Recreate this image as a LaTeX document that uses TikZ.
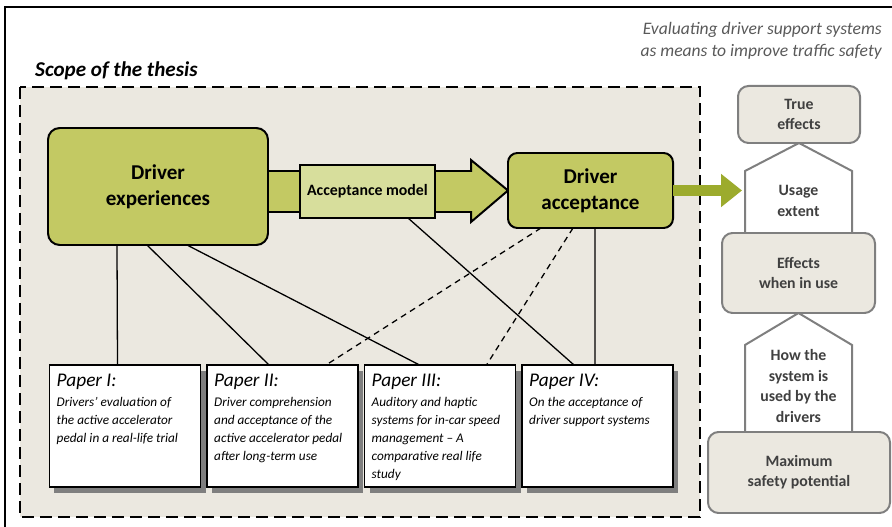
\documentclass[tikz,border=0pt]{standalone}
\usepackage{fontspec}
\setmainfont{Carlito}
\usetikzlibrary{calc, shadows, backgrounds, arrows.meta}

\definecolor{oliva}{RGB}{195,201,99}
\definecolor{olivaclara}{RGB}{215,222,156}
\definecolor{olivaflecha}{RGB}{156,171,45}
\definecolor{fondo}{RGB}{235,232,224}
\definecolor{borde}{RGB}{127,127,127}
\definecolor{textogris}{RGB}{64,64,64}
\definecolor{cabgris}{RGB}{89,89,89}

\newcommand{\titulopaper}[1]{{\fontsize{16.5}{19}\selectfont #1}}

\begin{document}
\begin{tikzpicture}[x=0.3mm, y=-0.3mm,
		caja/.style={draw, line width=1.7pt, fill=oliva, rounded corners=10pt, inner sep=0pt, outer sep=0pt,
			align=center, font=\fontsize{18}{22}\selectfont\bfseries},
		modelo/.style={draw, line width=1pt, fill=olivaclara, inner sep=0pt, outer sep=0pt,
			font=\fontsize{13.5}{16}\selectfont\bfseries},
		paper/.style={draw, line width=1.3pt, fill=white, inner sep=0pt, outer sep=0pt,
			minimum width=45.3mm, minimum height=36.6mm,
			drop shadow={shadow xshift=1.5mm, shadow yshift=-1.8mm, fill=borde, opacity=1}},
		textopaper/.style={anchor=north west, inner sep=0pt, align=left,
			font=\fontsize{11.3}{15.3}\selectfont\itshape},
		derecha/.style={draw=borde, line width=1.7pt, fill=fondo, rounded corners=9pt, inner sep=0pt, outer sep=0pt,
			align=center, text=textogris, font=\fontsize{13.5}{17}\selectfont\bfseries},
		textoderecha/.style={align=center, inner sep=0pt, text=textogris, font=\fontsize{13.5}{17.4}\selectfont\bfseries},
		pentagono/.style={draw=borde, line width=1.7pt, fill=white, line join=miter},
		marco/.style={draw, fill=fondo, line width=1.7pt, dash pattern=on 3.6mm off 1.8mm},
		flecha/.style={draw, fill=oliva, line width=1.7pt, line join=miter},
		flechaverde/.style={draw=olivaflecha, line width=3.3mm, -{Triangle[length=6.3mm, width=9.6mm]}},
		linea/.style={line width=1.1pt},
		discontinua/.style={line width=1.1pt, dash pattern=on 1.8mm off 1.4mm}]
		\useasboundingbox (0,0) rectangle (892,527);
		
		% Marco exterior
		\draw[line width=1.3pt] (5,527) -- (5,7) -- (892,7);
		
		% Textos
		\node[anchor=north east, inner sep=0pt, align=right, text=cabgris,
			font=\fontsize{15}{18.7}\selectfont\itshape] (eval) at (882,22)
			{Evaluating driver support systems\\as means to improve traffic safety};
		\node[anchor=base west, inner sep=0pt, font=\fontsize{18}{22}\selectfont\bfseries\itshape] (scope) at (35,77)
			{Scope of the thesis};
		
		% Cajas
		\node[caja, minimum width=66mm, minimum height=35.1mm] (exp) at (158,186.5) {Driver\\experiences};
		\node[modelo, minimum width=40.5mm, minimum height=15.9mm] (accm) at (367.5,191.5) {Acceptance model};
		\node[caja, minimum width=49.5mm, minimum height=22.5mm, rounded corners=8pt] (dacc) at (590.5,190.5) {Driver\\acceptance};
		
		% Papers
		\foreach \nombre/\cx in {p1/125, p2/282.5, p3/440, p4/597.5}
			\node[paper] (\nombre) at (\cx,426) {};
		\node[textopaper] (p1t) at ($(p1.north west)+(7,9)$)
			{\titulopaper{Paper I:}\\[2pt] Drivers’ evaluation of\\ the active accelerator\\ pedal in a real-life trial};
		\node[textopaper] (p2t) at ($(p2.north west)+(7,9)$)
			{\titulopaper{Paper II:}\\[2pt] Driver comprehension\\ and acceptance of the\\ active accelerator pedal\\ after long-term use};
		\node[textopaper] (p3t) at ($(p3.north west)+(7,9)$)
			{\titulopaper{Paper III:}\\[2pt] Auditory and haptic\\ systems for in-car speed\\ management – A\\ comparative real life\\ study};
		\node[textopaper] (p4t) at ($(p4.north west)+(7,9)$)
			{\titulopaper{Paper IV:}\\[2pt] On the acceptance of\\ driver support systems};
		
		% Columna derecha
		\node[derecha, minimum width=36.6mm, minimum height=17.1mm] (te) at (799,114.5) {True\\effects};
		\node[derecha, minimum width=45.9mm, minimum height=24mm] (eff) at (798.5,273) {Effects\\when in use};
		\node[derecha, minimum width=54.6mm, minimum height=24.3mm] (maxs) at (799,472.5) {Maximum\\safety potential};
		\node[textoderecha] (uso) at (798.5,201) {Usage\\extent};
		\node[textoderecha] (como) at (798.5,386) {How the\\system is\\used by the\\drivers};
		
		% Fondo, flecha grande y pentagonos
		\begin{scope}[on background layer]
			\draw[marco] (20,87) rectangle (700,517);
			\coordinate (ini) at (exp.east |- accm.center);
			\filldraw[flecha] ($(ini)+(0,-20.5)$) -- ++(203,0) -- ++(0,-11) -- (dacc.west)
				-- ($(ini)+(203,30.5)$) -- ++(0,-10) -- ($(ini)+(0,20.5)$);
			\filldraw[pentagono] (745,233) -- (745,171) -- (te.south) -- (852,171) -- (852,233) -- cycle;
			\filldraw[pentagono] (745,432) -- (745,345) -- (eff.south) -- (852,345) -- (852,432) -- cycle;
		\end{scope}
		
		% Flecha hacia la derecha
		\coordinate (punta) at (742,190.5);
		\draw[flechaverde] (dacc.east) -- (punta);
		
		% Lineas
		\draw[linea] ($(exp.south west)+(69,0)$) -- ($(p1.north west)+(68,0)$);
		\draw[linea] ($(exp.south west)+(99,0)$) -- ($(p2.north west)+(62,0)$);
		\draw[linea] ($(exp.south west)+(139,0)$) -- ($(p3.north west)+(55,0)$);
		\draw[linea] ($(accm.south west)+(108,0)$) -- ($(p4.north west)+(52,0)$);
		\draw[linea] ($(dacc.south west)+(87,0)$) -- ($(p4.north west)+(73,0)$);
		\draw[discontinua] ($(dacc.south west)+(33,0)$) -- ($(p2.north west)+(119,0)$);
		\draw[discontinua] ($(dacc.south west)+(65,0)$) -- ($(p3.north west)+(122,0)$);
	\end{tikzpicture}
\end{document}
